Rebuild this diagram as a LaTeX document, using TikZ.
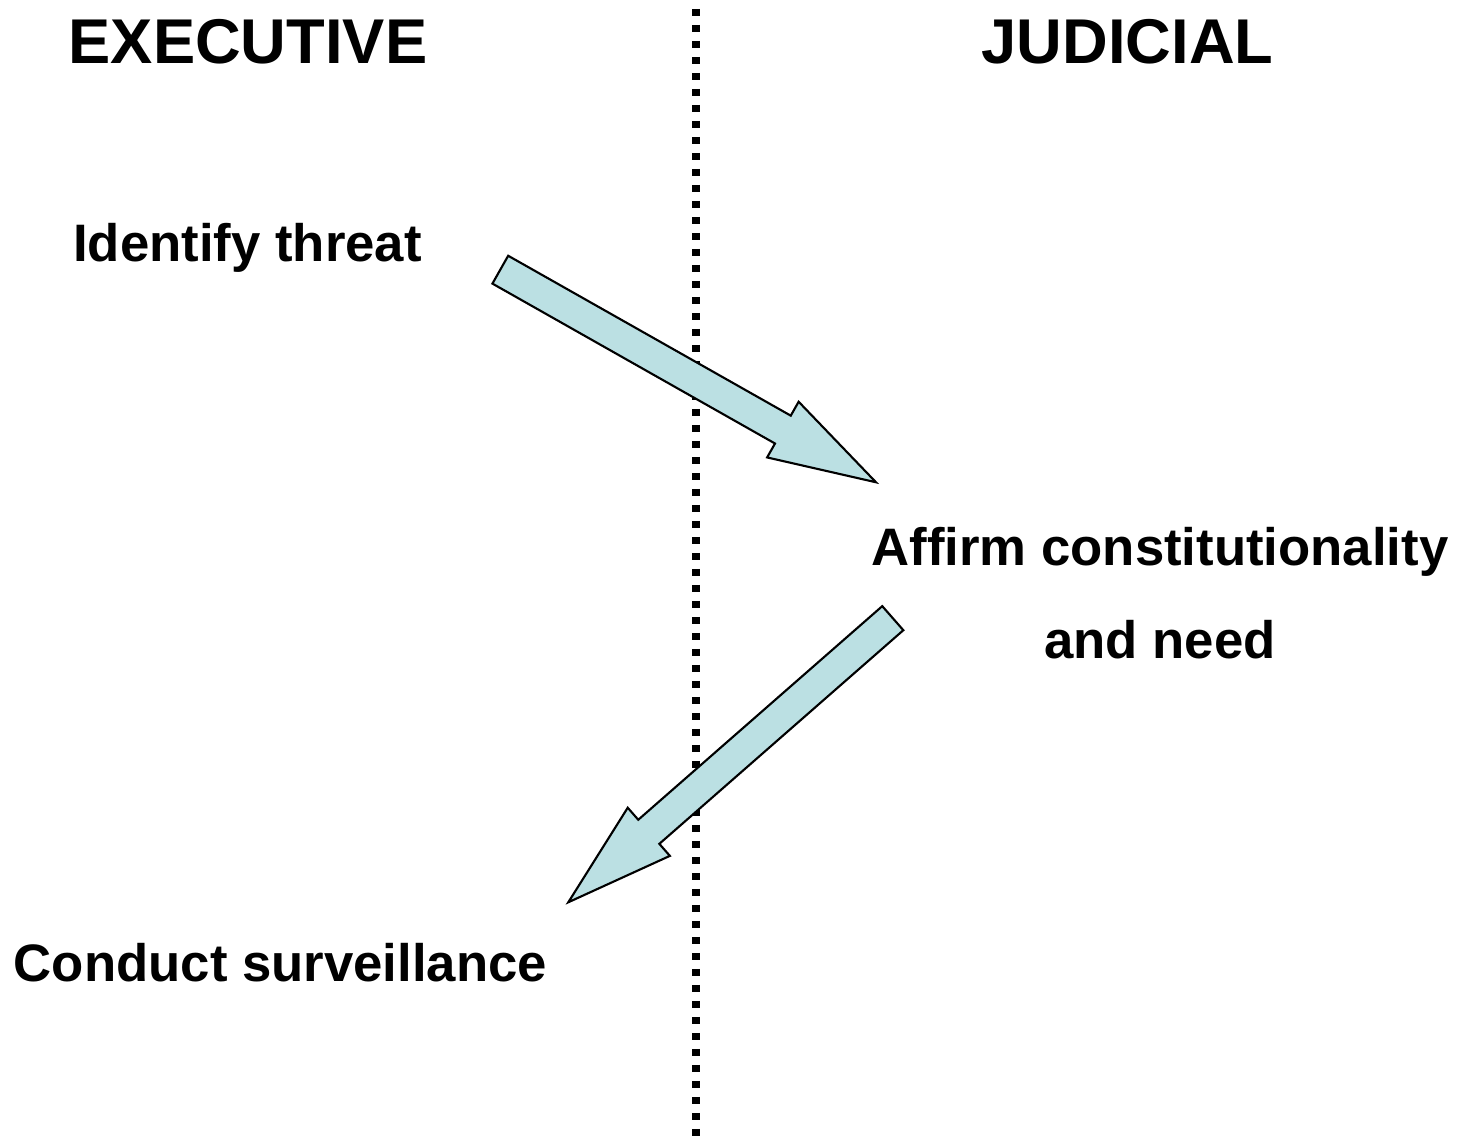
\documentclass[tikz,border=0pt]{standalone}
\usepackage{fontspec}
\setmainfont{Liberation Sans}
\usetikzlibrary{calc}

\definecolor{arrowblue}{RGB}{187,224,227}

% block arrow from #1 (tail) to #2 (tip)
\newcommand{\blockarrow}[2]{%
	\coordinate (#1-neck) at ($(#2)!1.07cm!(#1)$);
	\draw[bluearrow] ($(#1)!0.16cm!90:(#2)$) -- ($(#1-neck)!0.16cm!-90:(#1)$)
		-- ($(#1-neck)!0.32cm!-90:(#1)$) -- (#2) -- ($(#1-neck)!0.32cm!90:(#1)$)
		-- ($(#1-neck)!0.16cm!90:(#1)$) -- ($(#1)!0.16cm!-90:(#2)$) -- cycle;}

\begin{document}
\begin{tikzpicture}[
	title/.style={anchor=base,font=\fontsize{18}{21.6}\selectfont\bfseries},
	label/.style={anchor=base,align=center,font=\fontsize{15}{26.7}\selectfont\bfseries},
	bluearrow/.style={fill=arrowblue,draw=black,line width=0.6pt,line join=miter},
	divider/.style={line width=0.075cm,dash pattern=on 0.075cm off 0.085cm}]
	\useasboundingbox (0,0) rectangle (14.66,11.41);

	%DIVIDER
	\coordinate (top) at (6.96,11.322);
	\coordinate (bottom) at (6.96,0.052);
	\draw[divider] (top) -- (bottom);

	%TITLES
	\node[title] (exec) at (2.48,10.77) {EXECUTIVE};
	\node[title] (judic) at (11.275,10.77) {JUDICIAL};

	%LABELS
	\node[label] (threat) at (2.475,8.79) {Identify threat};
	\node[label] (affirm) at (11.60,4.82) {Affirm constitutionality\\ and need};
	\node[label] (surveil) at (2.805,1.59) {Conduct surveillance};

	%ARROWS
	\coordinate (ask) at (5.003,8.713);
	\coordinate (askTip) at (8.76,6.587);
	\coordinate (grant) at (8.928,5.228);
	\coordinate (grantTip) at (5.683,2.387);
	\blockarrow{ask}{askTip}
	\blockarrow{grant}{grantTip}
\end{tikzpicture}
\end{document}
